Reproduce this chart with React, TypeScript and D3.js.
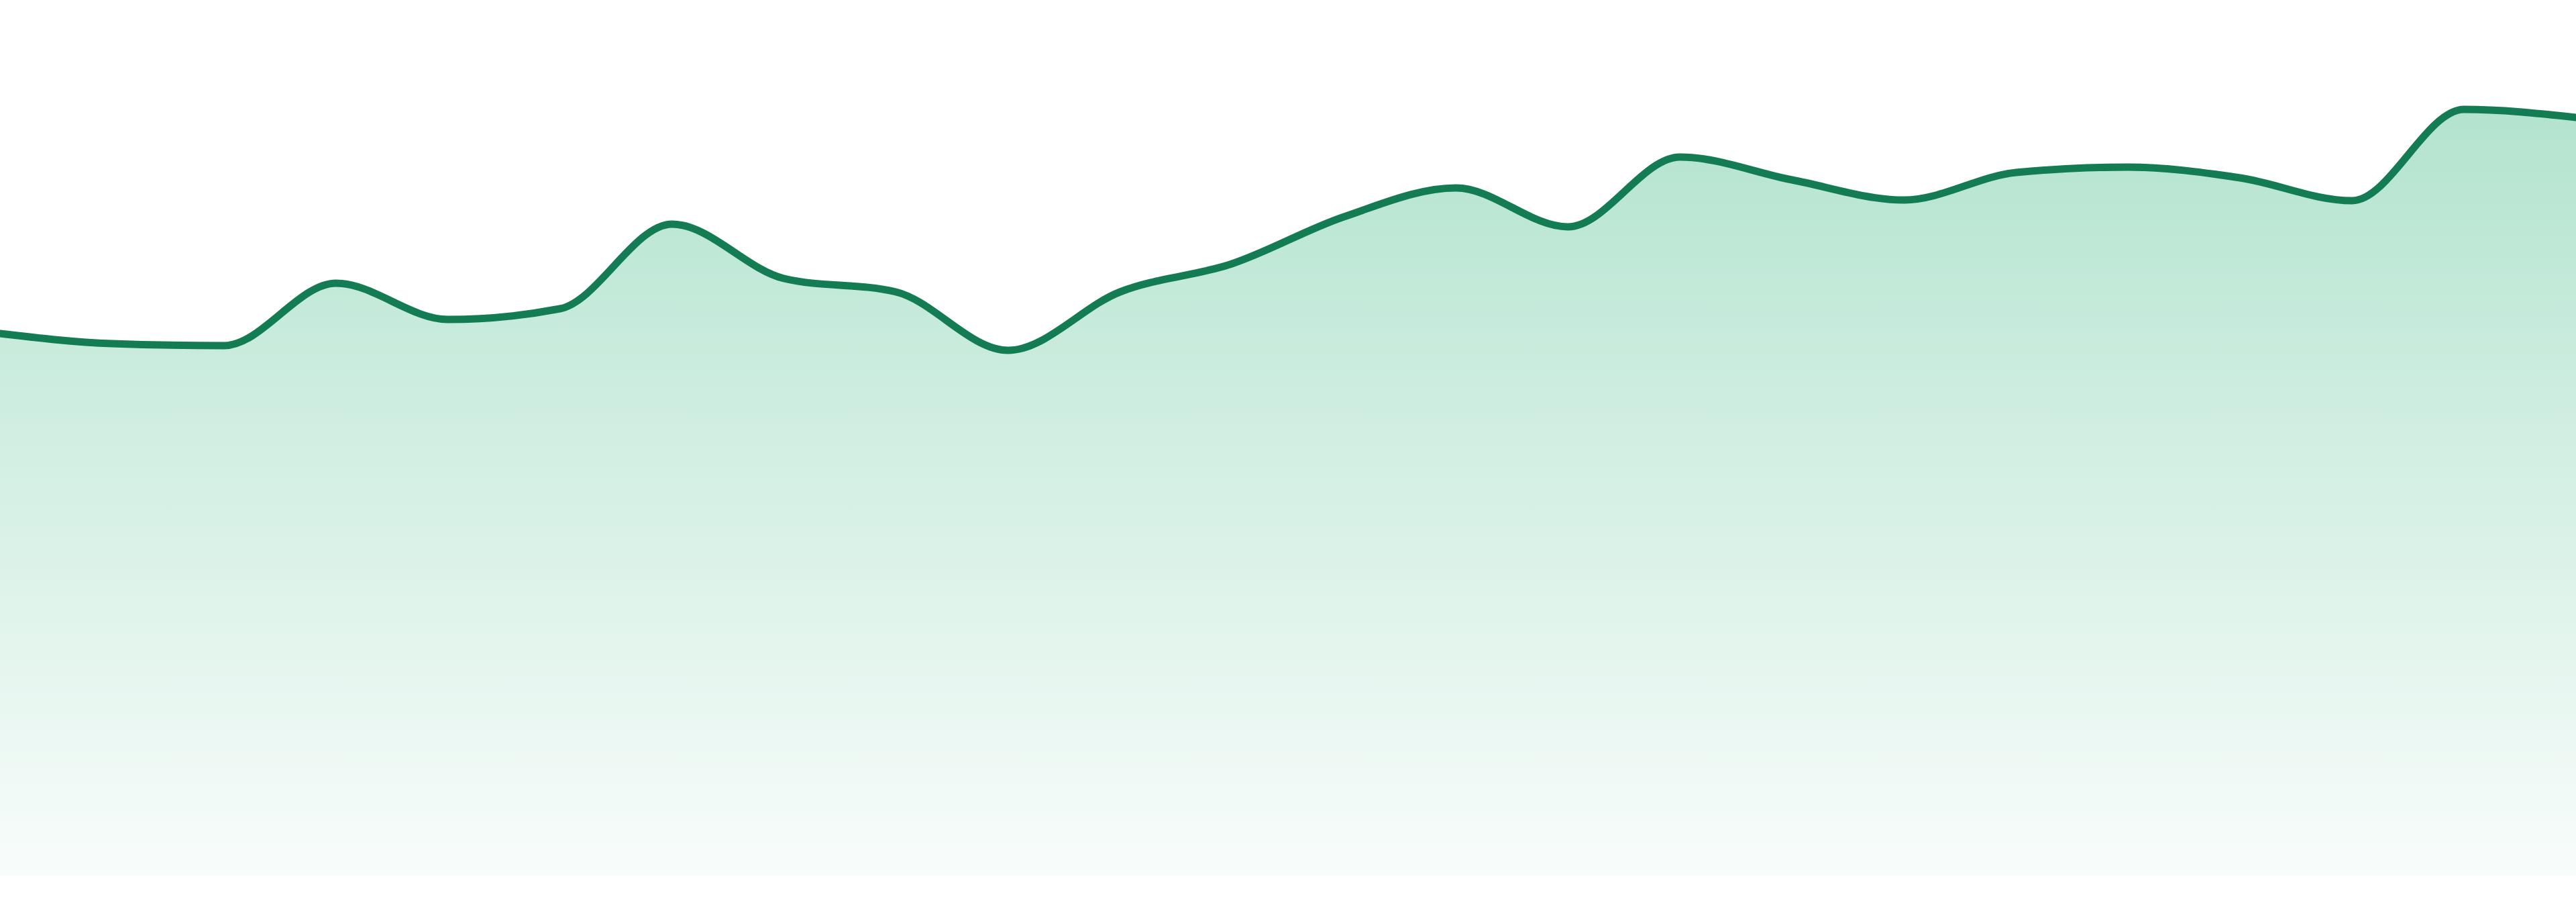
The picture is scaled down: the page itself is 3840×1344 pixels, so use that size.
import { useEffect, useRef } from "react";
import * as d3 from "d3";

const W = 3840;
const H = 1344;

// index of each sample along the x axis
const DAYS = d3.range(24);
// values
const VALUES = [
  80.8, 79.3, 79.0, 88.3, 82.9, 84.5, 97.1, 89.0, 87.0, 78.3, 87.0, 91.2,
  98.2, 102.5, 96.7, 107.1, 103.7, 100.7, 104.8, 105.6, 104.0, 100.6, 114.2, 113.0,
];

const Y_DOMAIN = [0, 130.5];
const LINE_COLOR = "#137c53";
const FILL_COLOR = "#1fae72";

export default function App() {
  const svgRef = useRef<SVGSVGElement>(null);

  useEffect(() => {
    if (!svgRef.current) return;
    const svg = d3.select(svgRef.current);
    svg.selectAll("*").remove();

    const margin = { top: 0, right: 0, bottom: 39, left: 0 };
    const h = H - margin.top - margin.bottom;

    const x = d3.scaleLinear().domain([0, DAYS.length - 1]).range([margin.left, W - margin.right]);
    const y = d3.scaleLinear().domain(Y_DOMAIN).range([margin.top + h, margin.top]);

    const data = DAYS.map((d, i) => ({ d, v: VALUES[i] }));

    // vertical fade for the area
    const defs = svg.append("defs");
    const grad = defs.append("linearGradient")
      .attr("id", "area-grad")
      .attr("gradientUnits", "userSpaceOnUse")
      .attr("x1", 0).attr("x2", 0)
      .attr("y1", y(d3.max(VALUES) ?? 0)).attr("y2", y(0));
    grad.append("stop").attr("offset", "0%").attr("stop-color", FILL_COLOR).attr("stop-opacity", 0.34);
    grad.append("stop").attr("offset", "100%").attr("stop-color", FILL_COLOR).attr("stop-opacity", 0.03);

    const area = d3.area<{ d: number; v: number }>()
      .x(p => x(p.d))
      .y0(y(0))
      .y1(p => y(p.v))
      .curve(d3.curveMonotoneX);

    const line = d3.line<{ d: number; v: number }>()
      .x(p => x(p.d))
      .y(p => y(p.v))
      .curve(d3.curveMonotoneX);

    svg.append("path")
      .attr("d", area(data) ?? "")
      .attr("fill", "url(#area-grad)");

    svg.append("path")
      .attr("d", line(data) ?? "")
      .attr("fill", "none")
      .attr("stroke", LINE_COLOR)
      .attr("stroke-width", 11)
      .attr("stroke-linejoin", "round")
      .attr("stroke-linecap", "round");
  }, []);

  return (
    <svg
      ref={svgRef}
      width={W}
      height={H}
      style={{ position: "fixed", left: 0, top: 0, display: "block", background: "#fff" }}
    />
  );
}
